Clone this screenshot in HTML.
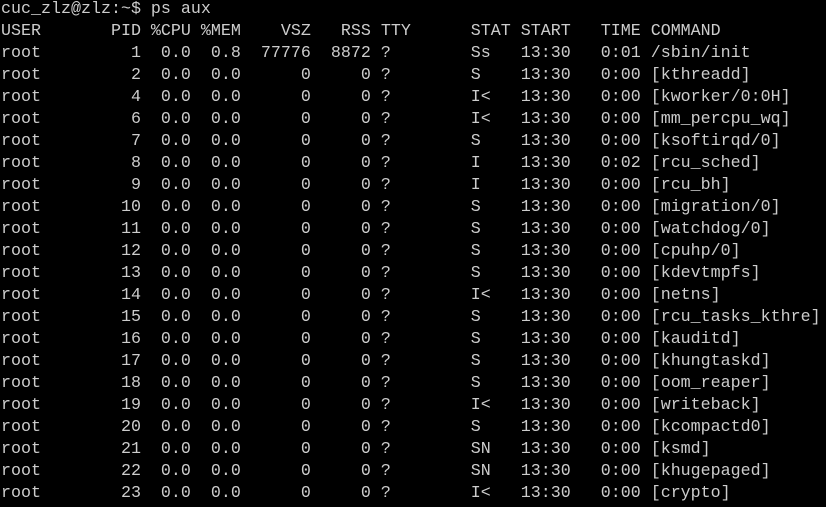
<!DOCTYPE html>
<html><head><meta charset="utf-8"><style>
html,body{margin:0;padding:0;background:#000;width:826px;height:507px;overflow:hidden}
pre{position:absolute;left:1px;top:-1px;margin:0;font-family:"Liberation Mono",monospace;font-size:16.67px;line-height:22px;color:#cccccc;white-space:pre}
</style></head><body>
<pre>cuc_zlz@zlz:~$ ps aux
USER       PID %CPU %MEM    VSZ   RSS TTY      STAT START   TIME COMMAND
root         1  0.0  0.8  77776  8872 ?        Ss   13:30   0:01 /sbin/init
root         2  0.0  0.0      0     0 ?        S    13:30   0:00 [kthreadd]
root         4  0.0  0.0      0     0 ?        I&lt;   13:30   0:00 [kworker/0:0H]
root         6  0.0  0.0      0     0 ?        I&lt;   13:30   0:00 [mm_percpu_wq]
root         7  0.0  0.0      0     0 ?        S    13:30   0:00 [ksoftirqd/0]
root         8  0.0  0.0      0     0 ?        I    13:30   0:02 [rcu_sched]
root         9  0.0  0.0      0     0 ?        I    13:30   0:00 [rcu_bh]
root        10  0.0  0.0      0     0 ?        S    13:30   0:00 [migration/0]
root        11  0.0  0.0      0     0 ?        S    13:30   0:00 [watchdog/0]
root        12  0.0  0.0      0     0 ?        S    13:30   0:00 [cpuhp/0]
root        13  0.0  0.0      0     0 ?        S    13:30   0:00 [kdevtmpfs]
root        14  0.0  0.0      0     0 ?        I&lt;   13:30   0:00 [netns]
root        15  0.0  0.0      0     0 ?        S    13:30   0:00 [rcu_tasks_kthre]
root        16  0.0  0.0      0     0 ?        S    13:30   0:00 [kauditd]
root        17  0.0  0.0      0     0 ?        S    13:30   0:00 [khungtaskd]
root        18  0.0  0.0      0     0 ?        S    13:30   0:00 [oom_reaper]
root        19  0.0  0.0      0     0 ?        I&lt;   13:30   0:00 [writeback]
root        20  0.0  0.0      0     0 ?        S    13:30   0:00 [kcompactd0]
root        21  0.0  0.0      0     0 ?        SN   13:30   0:00 [ksmd]
root        22  0.0  0.0      0     0 ?        SN   13:30   0:00 [khugepaged]
root        23  0.0  0.0      0     0 ?        I&lt;   13:30   0:00 [crypto]</pre>
</body></html>
